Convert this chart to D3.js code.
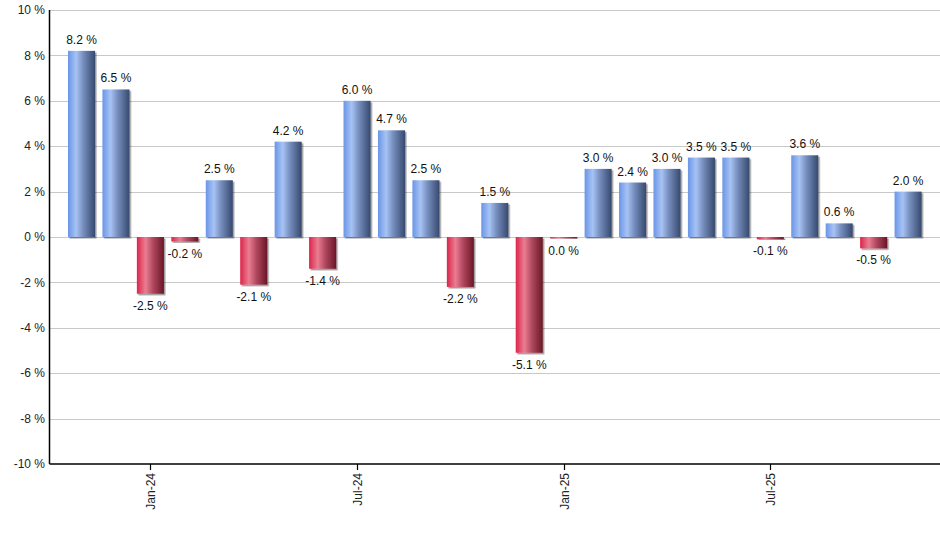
<!DOCTYPE html>
<html><head><meta charset="utf-8">
<script src="https://cdn.jsdelivr.net/npm/d3@7"></script>
<style>body{margin:0;background:#fff;}svg{display:block;font-family:Arial,"Liberation Sans",sans-serif;}</style>
</head><body>
<svg id="c" width="940" height="550"></svg>
<script>
const months = ["Nov-23","Dec-23","Jan-24","Feb-24","Mar-24","Apr-24","May-24","Jun-24","Jul-24","Aug-24","Sep-24","Oct-24","Nov-24","Dec-24","Jan-25","Feb-25","Mar-25","Apr-25","May-25","Jun-25","Jul-25","Aug-25","Sep-25","Oct-25","Nov-25"];
const values = [8.2,6.5,-2.5,-0.2,2.5,-2.1,4.2,-1.4,6.0,4.7,2.5,-2.2,1.5,-5.1,-0.04,3.0,2.4,3.0,3.5,3.5,-0.1,3.6,0.6,-0.5,2.0];
const yTicks = [-10,-8,-6,-4,-2,0,2,4,6,8,10];
const xTickLabels = ["Jan-24","Jul-24","Jan-25","Jul-25"];

const svg = d3.select("#c");
const L = 49.5, R = 940, T = 10, B = 464;
const x = d3.scaleBand().domain(months).range([64.3, 925.3]).paddingInner(0.215).paddingOuter(0.1075);
const y = d3.scaleLinear().domain([-10, 10]).range([B, T]);

const defs = svg.append("defs");
function grad(id, stops){
  const g = defs.append("linearGradient").attr("id", id).attr("x1","0").attr("x2","1").attr("y1","0").attr("y2","0");
  stops.forEach(s => g.append("stop").attr("offset", s[0]).attr("stop-color", s[1]));
}
grad("gBlue", [[0,"#6a95e6"],[0.3,"#a7c3f4"],[0.55,"#7890c0"],[1,"#36496e"]]);
grad("gRed", [[0,"#dc2549"],[0.32,"#e97d92"],[0.6,"#b0485e"],[1,"#6a1628"]]);
const f = defs.append("filter").attr("id","sh").attr("x","-20%").attr("y","-20%").attr("width","150%").attr("height","150%");
f.append("feDropShadow").attr("dx",1.5).attr("dy",1.5).attr("stdDeviation",0.5).attr("flood-color","#000").attr("flood-opacity",0.4);

// grid
svg.append("g").selectAll("line").data(yTicks.filter(t => t !== -10)).join("line")
  .attr("x1", L).attr("x2", R).attr("y1", d => Math.round(y(d))+0.5).attr("y2", d => Math.round(y(d))+0.5)
  .attr("stroke", "#c8c8c8").attr("stroke-width", 1);

// y labels
svg.append("g").selectAll("text").data(yTicks).join("text")
  .attr("x", 45).attr("y", d => y(d)).attr("dy", "0.35em").attr("text-anchor", "end")
  .attr("font-size", 12).attr("fill", "#222").text(d => d + " %");

// bars
svg.append("g").selectAll("rect").data(values).join("rect")
  .attr("x", (d,i) => x(months[i]))
  .attr("width", x.bandwidth())
  .attr("y", d => d >= 0 ? y(d) : y(0))
  .attr("height", d => Math.max(1.5, Math.abs(y(d) - y(0))))
  .attr("fill", d => d >= 0 ? "url(#gBlue)" : "url(#gRed)")
  .attr("filter", "url(#sh)");

// value labels
const fmt = v => (Math.abs(v) < 0.05 ? 0 : v).toFixed(1) + " %";
svg.append("g").selectAll("text").data(values).join("text")
  .attr("x", (d,i) => x(months[i]) + x.bandwidth()/2)
  .attr("y", d => d >= 0 ? y(d) - 7 : Math.max(y(d), y(0)+1.5) + 16)
  .attr("text-anchor", "middle").attr("font-size", 12).attr("fill", "#111")
  .text(d => fmt(d));

// axes lines
svg.append("line").attr("x1", L).attr("x2", L).attr("y1", T).attr("y2", B).attr("stroke", "#000").attr("stroke-width", 1.5);
svg.append("line").attr("x1", L).attr("x2", R).attr("y1", B).attr("y2", B).attr("stroke", "#000").attr("stroke-width", 1.5);

// x ticks
const xt = svg.append("g").selectAll("g").data(xTickLabels).join("g")
  .attr("transform", d => `translate(${Math.round(x(d) + x.bandwidth()/2)+0.5},${B})`);
xt.append("line").attr("y1", 0).attr("y2", 6).attr("stroke", "#000").attr("stroke-width", 1.2);
xt.append("text").attr("transform", "rotate(-90)").attr("x", -9).attr("dy", "0.35em")
  .attr("text-anchor", "end").attr("font-size", 12).attr("fill", "#222").text(d => d);
</script>
</body></html>
